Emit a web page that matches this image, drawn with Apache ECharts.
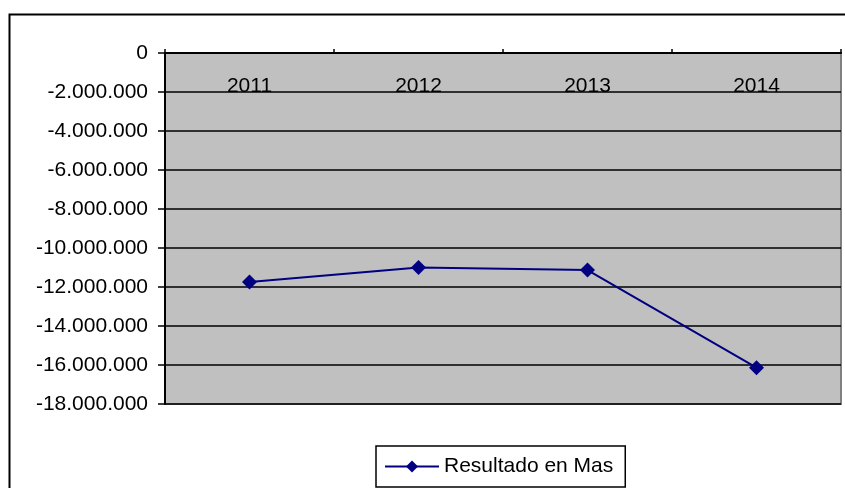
<!DOCTYPE html>
<html>
<head>
  <meta charset="utf-8">
  <title>Resultado en Mas</title>
  <script src="https://cdn.jsdelivr.net/npm/echarts@6/dist/echarts.min.js"></script>
  <style>
    html, body { margin: 0; padding: 0; background: #ffffff; }
    #main { width: 845px; height: 488px; }
  </style>
</head>
<body>
<div id="main"></div>
<script type="text/javascript">
var myChart = echarts.init(document.getElementById('main'));

var years = ['2011', '2012', '2013', '2014'];
var resultado = [-11740000, -11000000, -11130000, -16140000];
var seriesName = 'Resultado en Mas';

// 1.000.000 style thousand separators
function fmt(v) {
  var neg = v < 0;
  var s = String(Math.abs(v)).replace(/\B(?=(\d{3})+(?!\d))/g, '.');
  return neg ? '-' + s : s;
}

var option = {
  backgroundColor: '#ffffff',
  animation: false,
  textStyle: { fontFamily: 'Liberation Sans, Arial, sans-serif' },
  graphic: [{
    type: 'rect',
    left: 7,
    top: 12,
    shape: { width: 900, height: 600 },
    style: { fill: 'none', stroke: '#000000', lineWidth: 2 },
    silent: true
  }],
  grid: {
    left: 165,
    top: 53,
    right: 4,
    bottom: 84,
    show: true,
    backgroundColor: '#c0c0c0',
    borderColor: '#808080',
    borderWidth: 2
  },
  legend: {
    data: [seriesName],
    bottom: 1,
    left: 376,
    itemWidth: 54,
    itemHeight: 15,
    itemGap: 9,
    padding: [10, 12, 10, 8],
    borderColor: '#000000',
    borderWidth: 1.5,
    borderRadius: 0,
    textStyle: { fontSize: 21, color: '#000000' }
  },
  xAxis: {
    type: 'category',
    position: 'top',
    data: years,
    boundaryGap: true,
    axisLine: { show: true, lineStyle: { color: '#000000', width: 2 } },
    axisTick: { show: true, inside: false, length: 4, lineStyle: { color: '#000000', width: 1.5 } },
    axisLabel: {
      inside: true,
      margin: 23,
      fontSize: 21,
      color: '#000000'
    },
    splitLine: { show: false }
  },
  yAxis: {
    type: 'value',
    min: -18000000,
    max: 0,
    interval: 2000000,
    axisLine: { show: true, lineStyle: { color: '#000000', width: 2 } },
    axisTick: { show: true, inside: false, length: 7, lineStyle: { color: '#000000', width: 1.5 } },
    axisLabel: {
      margin: 17,
      fontSize: 21,
      color: '#000000',
      formatter: fmt
    },
    splitLine: { show: true, lineStyle: { color: '#000000', width: 1.5 } }
  },
  series: [{
    name: seriesName,
    type: 'line',
    data: resultado,
    symbol: 'diamond',
    symbolSize: 15,
    lineStyle: { color: '#000080', width: 2 },
    itemStyle: { color: '#000080' }
  }]
};

myChart.setOption(option);
</script>
</body>
</html>
